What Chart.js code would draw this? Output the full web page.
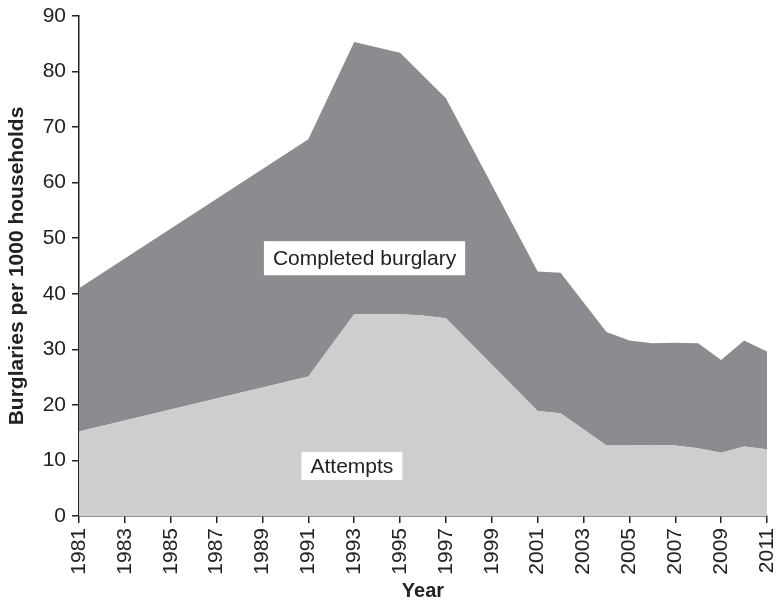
<!DOCTYPE html>
<html>
<head>
<meta charset="utf-8">
<script src="https://cdn.jsdelivr.net/npm/chart.js@4"></script>
<style>
    html, body { margin: 0; padding: 0; background: #fff; }
    #wrap { width: 776px; height: 603px; position: relative; }
</style>
</head>
<body>
<div id="wrap"><canvas id="chart"></canvas></div>
<script>
// Data (burglaries per 1000 households)
const years     = [1981, 1991, 1993, 1995, 1996, 1997, 2001, 2002, 2004, 2005, 2006, 2007, 2008, 2009, 2010, 2011];
const attempts  = [15.2, 25.1, 36.3, 36.3, 36.1, 35.6, 18.9, 18.5, 12.7, 12.7, 12.8, 12.7, 12.2, 11.4, 12.5, 12.0];
const completed = [25.8, 42.7, 49.0, 47.1, 43.2, 39.6, 25.1, 25.3, 20.4, 18.9, 18.3, 18.5, 18.9, 16.7, 19.1, 17.6];

const xTickLabels = [1981, 1983, 1985, 1987, 1989, 1991, 1993, 1995, 1997, 1999, 2001, 2003, 2005, 2007, 2009, 2011];

// In-chart area labels (placed in data coordinates)
const areaLabels = [
    { text: 'Completed burglary', x: 1993.45, y: 46.4, boxH: 34 },
    { text: 'Attempts', x: 1992.9, y: 9.0, boxH: 28 }
];

const INK = '#222222';
const FONT = "'Liberation Sans', Arial, Helvetica, sans-serif";

const toPoints = (xs, ys) => xs.map((x, i) => ({ x, y: ys[i] }));

const labelPlugin = {
    id: 'areaLabels',
    afterDatasetsDraw(chart) {
        const { ctx, scales: { x, y } } = chart;
        ctx.save();
        ctx.font = '21px ' + FONT;
        ctx.textAlign = 'center';
        ctx.textBaseline = 'middle';
        areaLabels.forEach(l => {
            const px = x.getPixelForValue(l.x);
            const py = y.getPixelForValue(l.y);
            const w = ctx.measureText(l.text).width + 18;
            ctx.fillStyle = '#ffffff';
            ctx.fillRect(px - w / 2, py - l.boxH / 2, w, l.boxH);
            ctx.fillStyle = INK;
            ctx.fillText(l.text, px, py + 1);
        });
        ctx.restore();
    }
};

new Chart(document.getElementById('chart'), {
    type: 'line',
    data: {
        datasets: [
            {
                label: 'Attempts',
                data: toPoints(years, attempts),
                backgroundColor: '#cdcecf',
                borderColor: 'rgba(0,0,0,0)',
                borderWidth: 0,
                pointRadius: 0,
                tension: 0,
                fill: 'origin'
            },
            {
                label: 'Completed burglary',
                data: toPoints(years, completed),
                backgroundColor: '#8b8c90',
                borderColor: 'rgba(0,0,0,0)',
                borderWidth: 0,
                pointRadius: 0,
                tension: 0,
                fill: '-1'
            }
        ]
    },
    options: {
        responsive: true,
        maintainAspectRatio: false,
        animation: false,
        layout: { padding: { top: 16, right: 9, bottom: 0, left: 0 } },
        plugins: {
            legend: { display: false },
            tooltip: { enabled: false }
        },
        scales: {
            x: {
                type: 'linear',
                min: 1981,
                max: 2011,
                afterBuildTicks: scale => {
                    scale.ticks = xTickLabels.map(v => ({ value: v }));
                },
                afterFit: scale => {
                    scale.height = 87;
                    scale.paddingLeft = 0;
                    scale.paddingRight = 0;
                },
                ticks: {
                    autoSkip: false,
                    minRotation: 90,
                    maxRotation: 90,
                    padding: 5,
                    color: INK,
                    font: { family: FONT, size: 21 },
                    callback: v => String(v)
                },
                grid: { drawOnChartArea: false, drawTicks: true, tickLength: 7, color: INK, lineWidth: 1.5 },
                border: { display: true, color: INK, width: 1.5 },
                title: {
                    display: true,
                    text: 'Year',
                    color: INK,
                    padding: { top: 0, bottom: 0 },
                    font: { family: FONT, size: 20, weight: 'bold' }
                }
            },
            y: {
                stacked: true,
                min: 0,
                max: 90,
                afterFit: scale => {
                    scale.width = 79;
                    scale.paddingTop = 0;
                    scale.paddingBottom = 0;
                },
                ticks: {
                    stepSize: 10,
                    padding: 6,
                    color: INK,
                    font: { family: FONT, size: 21 }
                },
                grid: { drawOnChartArea: false, drawTicks: true, tickLength: 7, color: INK, lineWidth: 1.5 },
                border: { display: true, color: INK, width: 1.5 },
                title: {
                    display: true,
                    text: 'Burglaries per 1000 households',
                    color: INK,
                    padding: { top: 5, bottom: 0 },
                    font: { family: FONT, size: 21, weight: 'bold' }
                }
            }
        }
    },
    plugins: [labelPlugin]
});
</script>
</body>
</html>
